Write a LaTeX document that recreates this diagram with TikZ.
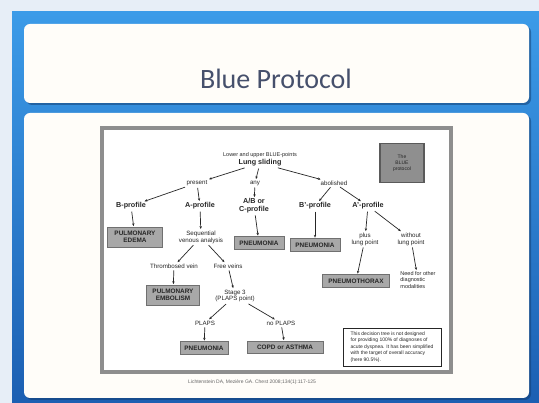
\documentclass[tikz,border=0pt]{standalone}
\usepackage{fontspec}
\setmainfont{Liberation Sans}
\newfontfamily\titlefont{Carlito}
\usetikzlibrary{arrows.meta,positioning}
\definecolor{SlideBg}{HTML}{E7EEF7}
\definecolor{FrameTop}{HTML}{3C9BE8}
\definecolor{FrameBot}{HTML}{1C5FB2}
\definecolor{PanelWhite}{HTML}{FFFDF9}
\definecolor{TitleInk}{HTML}{46506C}
\definecolor{BoxGray}{HTML}{A8A8A8}
\definecolor{BoxEdge}{HTML}{707070}
\definecolor{ChartInk}{HTML}{262626}
\definecolor{FrameGray}{HTML}{8E8E8E}

\begin{document}
\begin{tikzpicture}[
  x=1pt,y=-1pt,
  txt/.style={font=\fontsize{6.2}{6.8}\selectfont,text=ChartInk,inner sep=1pt,align=center},
  small/.style={txt,font=\fontsize{5.5}{6.2}\selectfont},
  prof/.style={txt,font=\fontsize{7.2}{7.8}\selectfont\bfseries},
  dx/.style={draw=BoxEdge,fill=BoxGray,line width=0.8pt,font=\fontsize{6.4}{7}\selectfont\bfseries,text=ChartInk,align=center,inner sep=1pt,minimum height=13pt},
  arr/.style={-{Stealth[length=2.8pt,width=2.4pt]},line width=0.7pt,draw=ChartInk,shorten <=1pt,shorten >=0.5pt},
  panel/.style={fill=PanelWhite,rounded corners=6pt},
  shadow/.style={fill=FrameBot!60!black,opacity=0.5,rounded corners=6pt}
]
\useasboundingbox (0,0) rectangle (539,403);
% slide background and panels
\fill[SlideBg] (0,0) rectangle (539,403);
\shade[top color=FrameTop,bottom color=FrameBot] (12,12) rectangle (539,403);
\fill[shadow] (26,26) rectangle (531,105);
\fill[panel] (24,24) rectangle (529,103);
\fill[shadow] (26,115) rectangle (531,400);
\fill[panel] (24,113) rectangle (529,398);
\node[font=\titlefont\fontsize{28}{30}\selectfont,text=TitleInk] (title) at (276,79) {Blue Protocol};

% the figure
\draw[FrameGray,line width=3.5pt,fill=white] (102,128) rectangle (451,372);

\node[prof] (lung) at (260,163) {Lung sliding};
\node[small,above=0pt of lung] (pts) {Lower and upper BLUE-points};
\node[txt] (present) at (197,183) {present};
\node[txt] (any) at (255,183) {any};
\node[txt] (abol) at (334,183) {abolished};
\node[prof] (bpro) at (131,206) {B-profile};
\node[prof] (apro) at (200,206) {A-profile};
\node[prof] (abc) at (254,206) {A/B or\\C-profile};
\node[prof] (bppro) at (315,206) {B'-profile};
\node[prof] (appro) at (368,206) {A'-profile};
\node[dx,minimum width=55pt,minimum height=20pt] (edema) at (135,237) {PULMONARY\\EDEMA};
\node[txt] (venous) at (201,237) {Sequential\\venous analysis};
\node[dx,minimum width=50pt] (pneuA) at (259,243) {PNEUMONIA};
\node[dx,minimum width=50pt] (pneuB) at (315,245) {PNEUMONIA};
\node[txt] (plus) at (365,239) {plus\\lung point};
\node[txt] (without) at (411,239) {without\\lung point};
\node[txt] (thromb) at (174,266) {Thrombosed vein};
\node[txt] (free) at (228,266) {Free veins};
\node[dx,minimum width=53pt,minimum height=20pt] (embol) at (173,295) {PULMONARY\\EMBOLISM};
\node[txt] (stage) at (235,296) {Stage 3\\(PLAPS point)};
\node[dx,minimum width=67pt] (ptx) at (356,281) {PNEUMOTHORAX};
\node[small,align=left] (need) at (418,280) {Need for other\\diagnostic\\modalities};
\node[txt] (plaps) at (205,323) {PLAPS};
\node[txt] (noplaps) at (281,323) {no PLAPS};
\node[dx,minimum width=48pt] (pneuC) at (204,348) {PNEUMONIA};
\node[dx,minimum width=76pt,minimum height=12pt] (copd) at (285,347) {COPD or ASTHMA};
\node[draw=BoxEdge!80!black,fill=BoxGray!85!black,line width=1.5pt,minimum width=44pt,minimum height=39pt,
  font=\fontsize{5}{6}\selectfont,text=ChartInk,align=center] (blue) at (402,163) {The\\BLUE\\protocol};
\node[draw=ChartInk,line width=0.5pt,align=left,inner sep=2pt,minimum width=98pt,minimum height=38pt,
  font=\fontsize{5}{6.6}\selectfont,text=ChartInk] (note) at (392,347)
  {This decision tree is not designed\\for providing 100\% of diagnoses of\\acute dyspnea. It has been simplified\\with the target of overall accuracy\\(here 90.5\%).};
\node[font=\fontsize{5}{6}\selectfont,text=ChartInk!70] (cite) at (252,382) {Lichtenstein DA, Mezi\`ere GA. Chest 2008;134(1):117-125};

% connectors
\draw[arr] (lung) -- (present);
\draw[arr] (lung) -- (any);
\draw[arr] (lung) -- (abol);
\draw[arr] (present) -- (bpro);
\draw[arr] (present) -- (apro);
\draw[arr] (any) -- (abc);
\draw[arr] (abol) -- (bppro);
\draw[arr] (abol) -- (appro);
\draw[arr] (bpro) -- (edema);
\draw[arr] (apro) -- (venous);
\draw[arr] (abc) -- (pneuA);
\draw[arr] (bppro) -- (pneuB);
\draw[arr] (appro) -- (plus);
\draw[arr] (appro) -- (without);
\draw[arr] (venous) -- (thromb);
\draw[arr] (venous) -- (free);
\draw[arr] (thromb) -- (embol);
\draw[arr] (free) -- (stage);
\draw[arr] (stage) -- (plaps);
\draw[arr] (stage) -- (noplaps);
\draw[arr] (plaps) -- (pneuC);
\draw[arr] (noplaps) -- (copd);
\draw[arr] (plus) -- (ptx);
\draw[arr] (without) -- (need);
\end{tikzpicture}
\end{document}
